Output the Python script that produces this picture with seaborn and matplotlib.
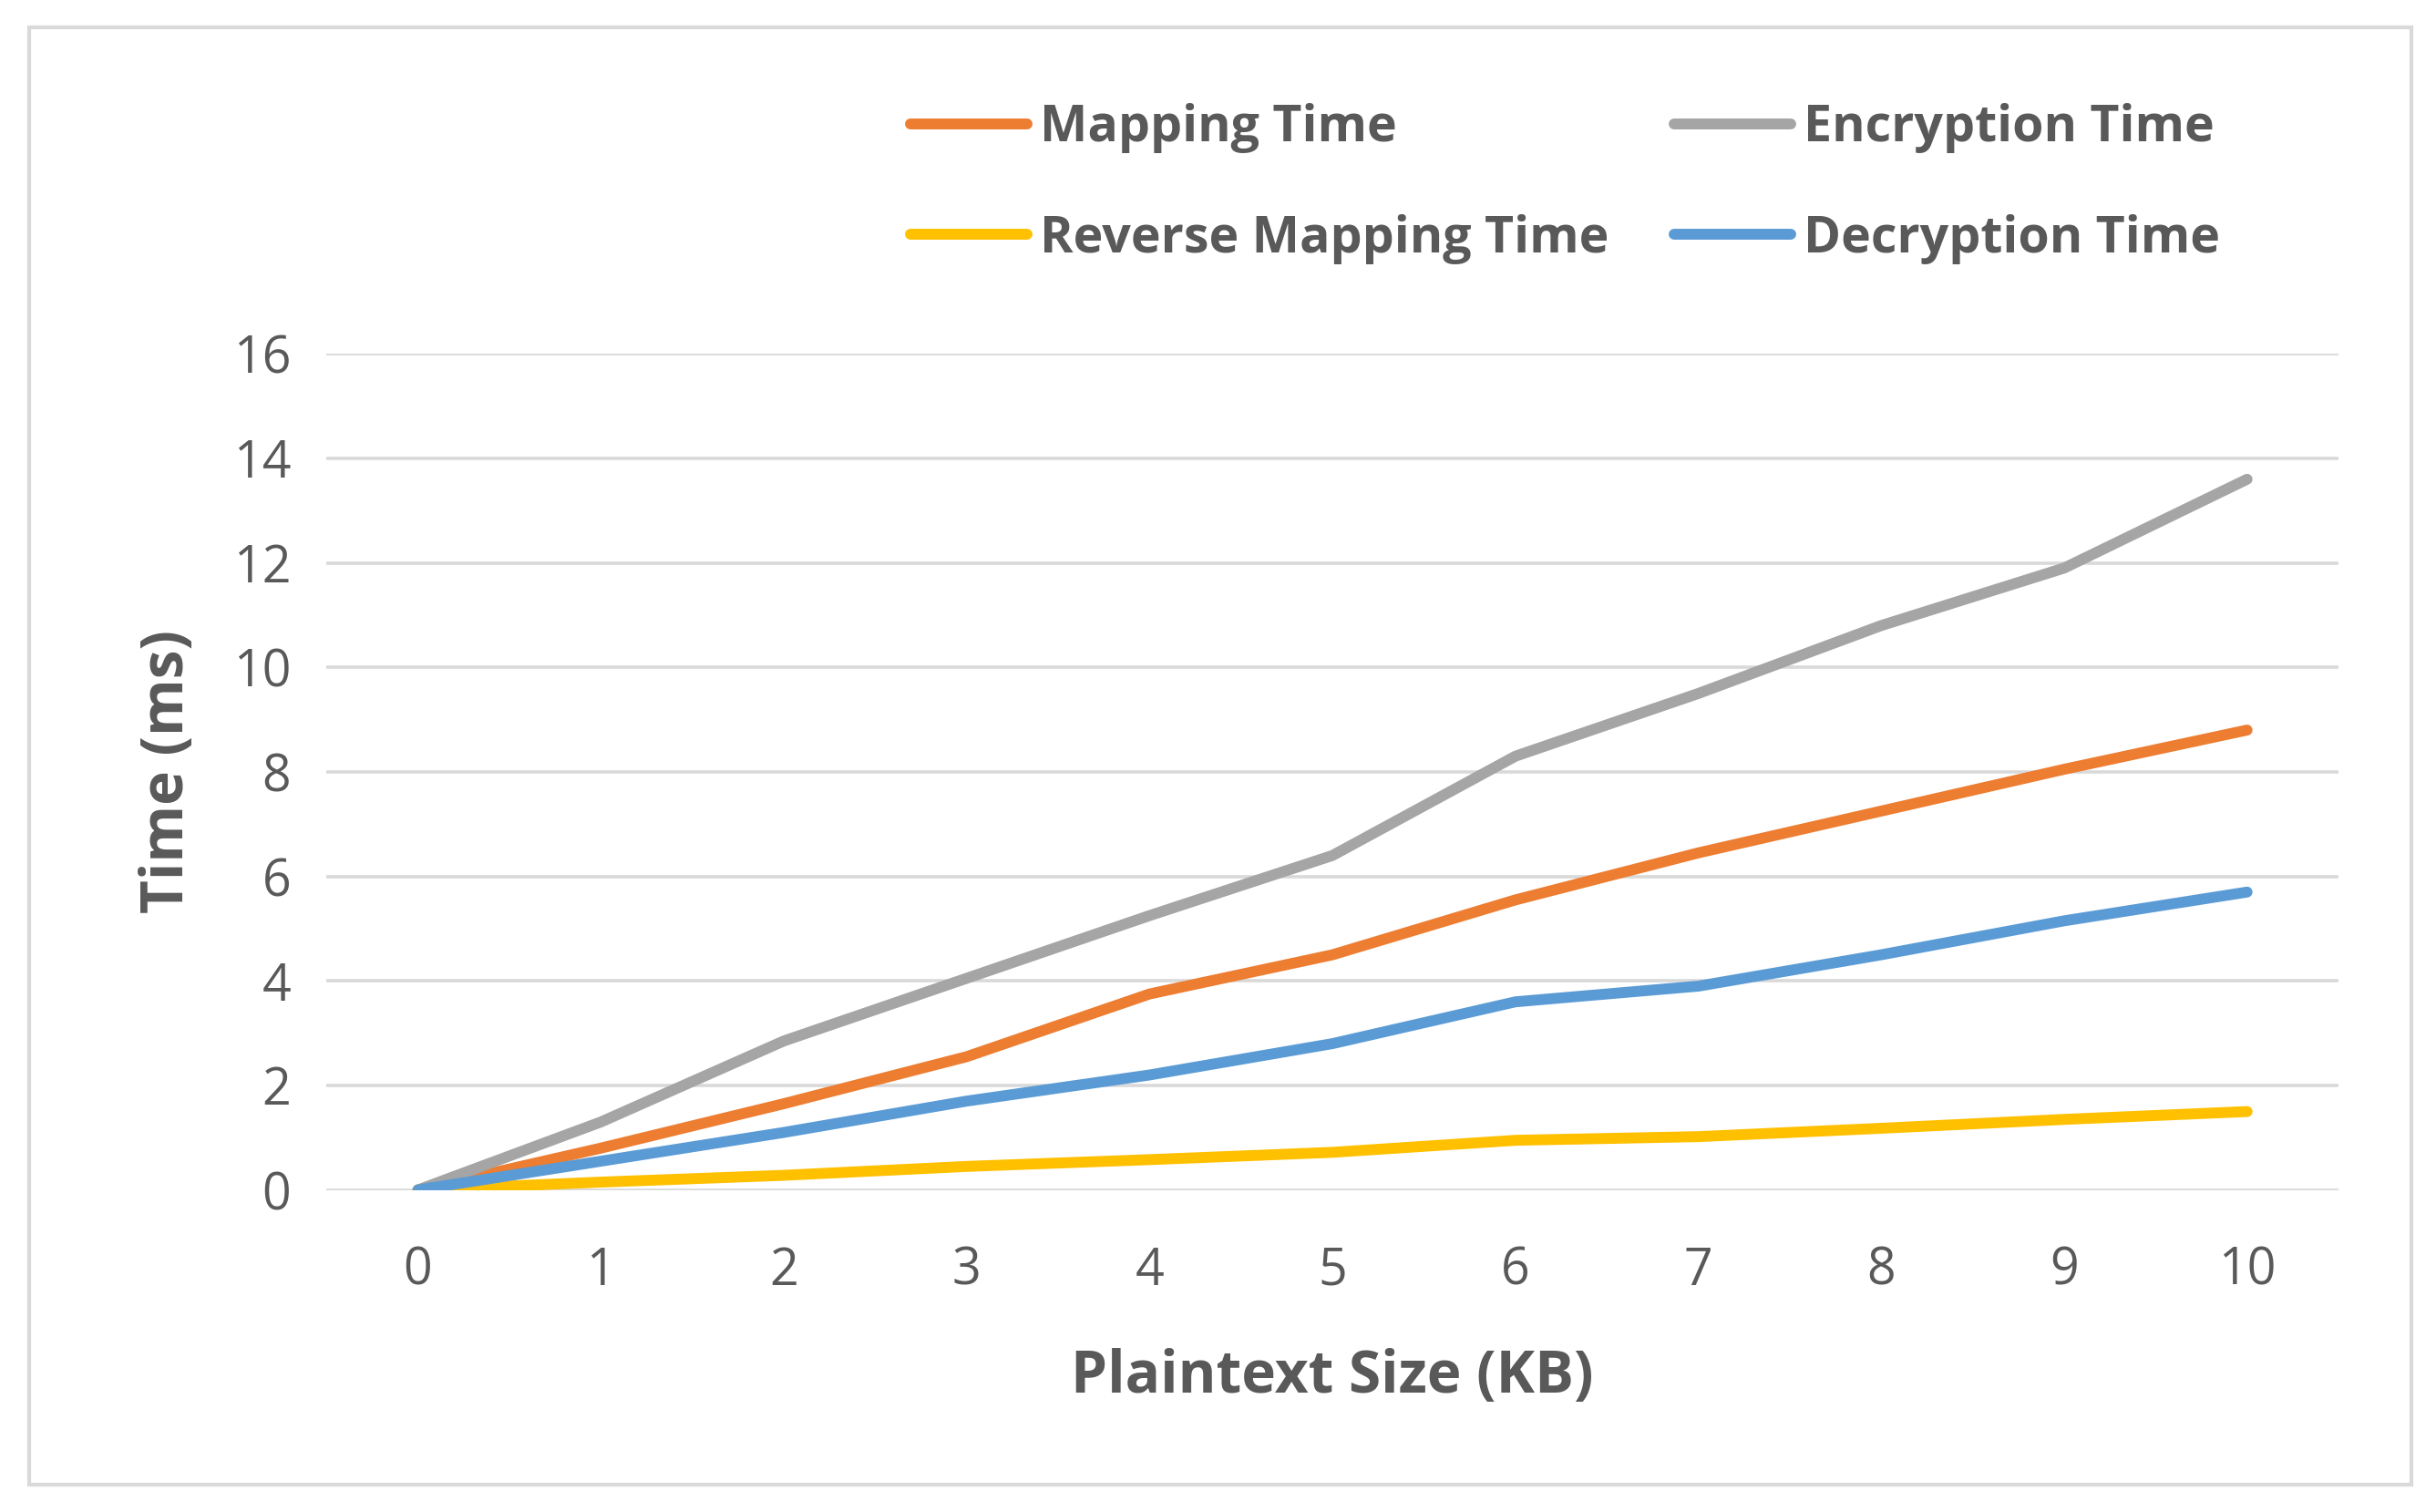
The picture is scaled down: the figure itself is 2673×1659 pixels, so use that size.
import pandas as pd
import matplotlib.pyplot as plt
import matplotlib.patches as patches
import seaborn as sns

sizes = list(range(11))
mapping = [0, 0.8, 1.65, 2.55, 3.75, 4.5, 5.55, 6.45, 7.25, 8.05, 8.8]
encryption = [0, 1.3, 2.85, 4.05, 5.25, 6.4, 8.3, 9.5, 10.8, 11.9, 13.6]
reverse = [0, 0.15, 0.28, 0.45, 0.58, 0.72, 0.95, 1.02, 1.18, 1.35, 1.5]
decryption = [0, 0.55, 1.1, 1.7, 2.2, 2.8, 3.6, 3.9, 4.5, 5.15, 5.7]

df = pd.DataFrame({
    'size': sizes * 4,
    'time': mapping + encryption + reverse + decryption,
    'series': (['Mapping Time'] * 11 + ['Encryption Time'] * 11
               + ['Reverse Mapping Time'] * 11 + ['Decryption Time'] * 11),
})
palette = {'Mapping Time': '#ED7D31', 'Encryption Time': '#A5A5A5',
           'Reverse Mapping Time': '#FFC000', 'Decryption Time': '#5B9BD5'}

sns.set_style('white')
plt.rcParams['font.family'] = ['Open Sans', 'DejaVu Sans']
txt = '#595959'

fig = plt.figure(figsize=(13.365, 8.295), dpi=200)
ax = fig.add_axes([0.134, 0.213, 0.826, 0.553])
sns.lineplot(data=df, x='size', y='time', hue='series', palette=palette,
             linewidth=4.3, ax=ax, legend=False, solid_capstyle='round')

ax.set_xlim(-0.5, 10.5)
ax.set_ylim(0, 16)
ax.set_xticks(sizes)
ax.set_yticks(range(0, 17, 2))
ax.grid(axis='y', color='#D9D9D9', linewidth=1.3)
ax.set_axisbelow(True)
for s in ax.spines.values():
    s.set_visible(False)
ax.tick_params(axis='x', labelsize=20, colors=txt, length=0, pad=22)
ax.tick_params(axis='y', labelsize=20, colors=txt, length=0, pad=14)
ax.set_xlabel('Plaintext Size (KB)', fontsize=23, fontweight='bold', color=txt, labelpad=20)
ax.set_ylabel('Time (ms)', fontsize=23, fontweight='bold', color=txt, labelpad=14)

order = ['Mapping Time', 'Reverse Mapping Time', 'Encryption Time', 'Decryption Time']
handles = [plt.Line2D([], [], color=palette[k], linewidth=4.3, solid_capstyle='round') for k in order]
leg = fig.legend(handles, order, ncol=2, loc='upper left', bbox_to_anchor=(0.355, 0.962),
                 frameon=False, handlelength=2.3, handletextpad=0.25, columnspacing=1.3,
                 labelspacing=1.2, prop={'size': 20, 'weight': 'bold'})
for t in leg.get_texts():
    t.set_color(txt)

fig.patches.append(patches.Rectangle((0.012, 0.018), 0.978, 0.964, transform=fig.transFigure,
                                     fill=False, edgecolor='#D9D9D9', linewidth=1.5))
fig.savefig('out.png', dpi=200)
